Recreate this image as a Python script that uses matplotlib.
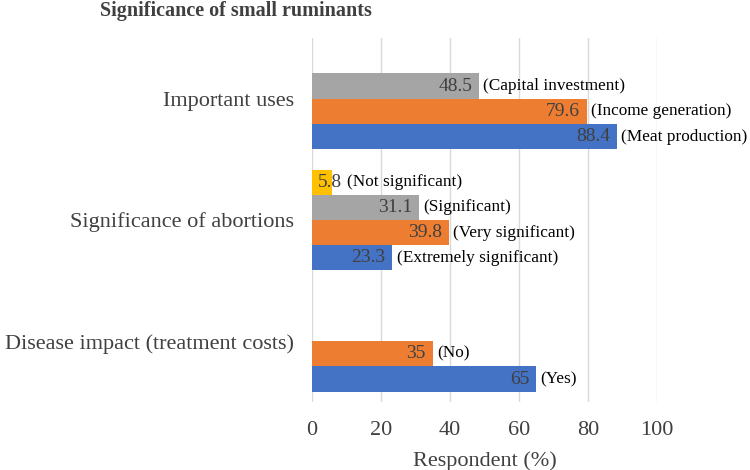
import matplotlib
matplotlib.use("Agg")
import matplotlib.pyplot as plt
import numpy as np

plt.rcParams['font.family'] = ['Liberation Serif', 'DejaVu Serif']

categories = ['Disease impact (treatment costs)', 'Significance of abortions', 'Important uses']

# one list per series (slot), bottom to top within each group; None = empty slot
blue_vals = [65, 23.3, 88.4]
orange_vals = [35, 39.8, 79.6]
gray_vals = [None, 31.1, 48.5]
yellow_vals = [None, 5.8, None]

blue_notes = ['(Yes)', '(Extremely significant)', '(Meat production)']
orange_notes = ['(No)', '(Very significant)', '(Income generation)']
gray_notes = [None, '(Significant)', '(Capital investment)']
yellow_notes = [None, '(Not significant)', None]

colors = ['#4472C4', '#ED7D31', '#A5A5A5', '#FFC000']

fig = plt.figure(figsize=(7.5, 4.7), dpi=100)
ax = fig.add_axes([0.416, 0.145, 0.46, 0.774])

h = 0.208
y = np.arange(len(categories))
series = [(blue_vals, blue_notes), (orange_vals, orange_notes),
          (gray_vals, gray_notes), (yellow_vals, yellow_notes)]

for i, (vals, notes) in enumerate(series):
    off = (i - 1.5) * h
    for j, v in enumerate(vals):
        if v is None:
            continue
        yy = y[j] + off
        ax.barh(yy, v, height=h, color=colors[i], zorder=2)
        if v < 10:
            # too short: label spills out of the bar
            ax.annotate('%g' % v, (0, yy), xytext=(4, 0), textcoords='offset points',
                        ha='left', va='center', fontsize=14, color='#404040', zorder=3)
            note_pad = 11
        else:
            ax.annotate('%g' % v, (v, yy), xytext=(-5, 0), textcoords='offset points',
                        ha='right', va='center', fontsize=14, color='#404040', zorder=3)
            note_pad = 3
        ax.annotate(notes[j], (v, yy), xytext=(note_pad, 0), textcoords='offset points',
                    ha='left', va='center', fontsize=12.4, color='black',
                    annotation_clip=False, zorder=3)

ax.set_xlim(0, 100)
ax.set_ylim(-0.5, 2.5)
ax.set_xticks([0, 20, 40, 60, 80, 100])
ax.set_yticks(y)
ax.set_yticklabels(categories)
ax.grid(axis='x', color='#D9D9D9', linewidth=1, zorder=0)
for s in ax.spines.values():
    s.set_visible(False)
ax.tick_params(axis='y', length=0, labelsize=16, colors='#404040', pad=13)
ax.tick_params(axis='x', length=0, labelsize=16, colors='#404040', pad=14)
ax.set_xlabel('Respondent (%)', fontsize=16, color='#404040', labelpad=8)

fig.text(0.315, 0.976, 'Significance of small ruminants', ha='center', va='center',
         fontsize=14.5, fontweight='bold', color='#404040')

plt.savefig('out.png', dpi=100)
